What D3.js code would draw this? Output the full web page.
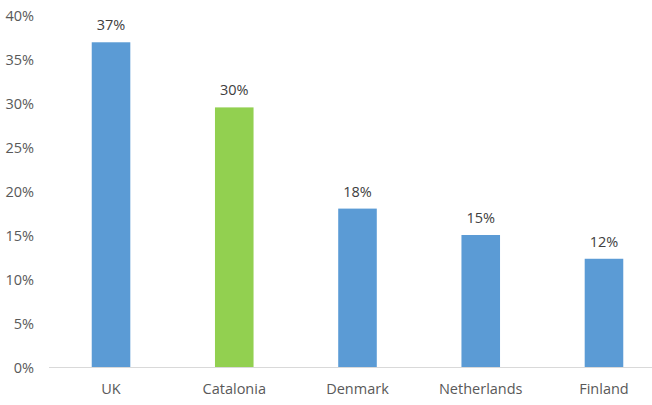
<!DOCTYPE html>
<html><head><meta charset="utf-8">
<script src="https://cdn.jsdelivr.net/npm/d3@7"></script>
<style>body{margin:0;background:#fff}svg{display:block}text{font-family:"Open Sans","Noto Sans",sans-serif}</style>
</head><body><svg id="c" width="652" height="405"></svg>
<script>
const categories = ["UK","Catalonia","Denmark","Netherlands","Finland"];
const values = [36.9, 29.5, 18.0, 15.0, 12.3];
const labels = ["37%","30%","18%","15%","12%"];
const colors = ["#5B9BD5","#92D050","#5B9BD5","#5B9BD5","#5B9BD5"];
const yTicks = [0,5,10,15,20,25,30,35,40];

const svg = d3.select("#c");
const x = d3.scaleBand().domain(categories).range([49.4,665.6]).paddingInner(0.687).paddingOuter(0.3435);
const y = d3.scaleLinear().domain([0,40]).range([367,15]);

svg.append("line").attr("x1",49).attr("x2",652).attr("y1",y(0)+0.5).attr("y2",y(0)+0.5)
  .attr("stroke","#d9d9d9").attr("stroke-width",1);

const yAxis = svg.append("g").attr("transform","translate(34,0)")
  .call(d3.axisLeft(y).tickValues(yTicks).tickFormat(d=>d+"%").tickSize(0).tickPadding(0));
yAxis.select(".domain").remove();
yAxis.selectAll("text").attr("fill","#595959").style("font-size","14.5px").attr("dy","0.35em");

svg.selectAll("rect.bar").data(categories).enter().append("rect")
  .attr("x",d=>x(d)).attr("width",x.bandwidth())
  .attr("y",(d,i)=>y(values[i])).attr("height",(d,i)=>y(0)-y(values[i]))
  .attr("fill",(d,i)=>colors[i]);

svg.selectAll("text.val").data(categories).enter().append("text")
  .attr("x",d=>x(d)+x.bandwidth()/2).attr("y",(d,i)=>y(values[i])-12)
  .attr("text-anchor","middle").attr("fill","#404040").style("font-size","14.5px")
  .text((d,i)=>labels[i]);

const xAxis = svg.append("g").attr("transform",`translate(0,${y(0)})`)
  .call(d3.axisBottom(x).tickSize(0).tickPadding(0));
xAxis.select(".domain").remove();
xAxis.selectAll("text").attr("fill","#595959").style("font-size","14.5px").attr("dy","1.85em").attr("y",0);
</script></body></html>
